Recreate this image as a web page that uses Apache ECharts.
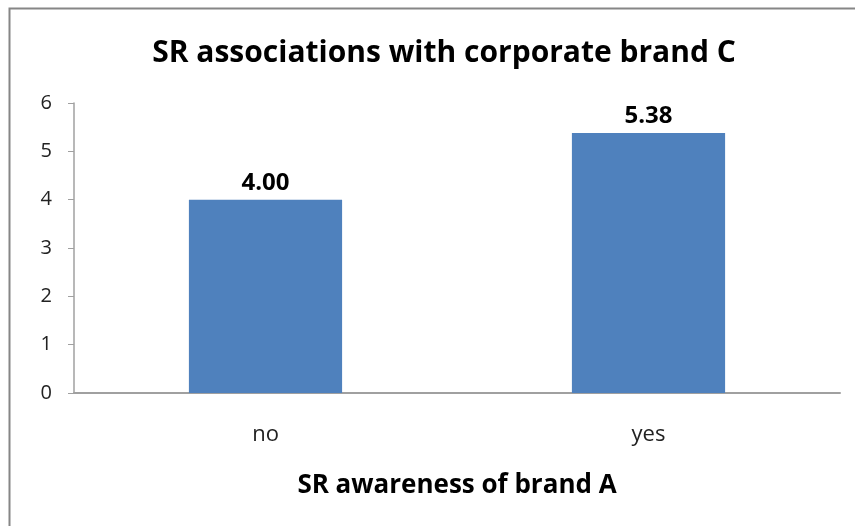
<!DOCTYPE html>
<html><head><meta charset="utf-8">
<script src="https://cdn.jsdelivr.net/npm/echarts@6/dist/echarts.min.js"></script>
<style>html,body{margin:0;padding:0;background:#fff}#c{width:855px;height:526px}</style>
</head><body><div id="c"></div>
<script>
const categories = ['no', 'yes'];
const values = [4.00, 5.38];
const yTicks = [0, 1, 2, 3, 4, 5, 6];
const titleText = 'SR associations with corporate brand C';
const xTitle = 'SR awareness of brand A';

const chart = echarts.init(document.getElementById('c'), null, {renderer: 'canvas'});
const F = 'Open Sans';
chart.setOption({
  animation: false,
  backgroundColor: '#fff',
  graphic: [{
    type: 'rect', shape: {x: 9.5, y: 8.5, width: 900, height: 600},
    style: {fill: 'none', stroke: '#868686', lineWidth: 2}, silent: true
  }],
  title: {
    text: titleText, left: 439, top: 33, textAlign: 'center',
    textStyle: {fontFamily: F, fontWeight: 'bold', fontSize: 30, color: '#000'}
  },
  grid: {left: 74, right: 15, top: 103, bottom: 133, containLabel: false},
  xAxis: {
    type: 'category', data: categories,
    name: xTitle, nameLocation: 'middle', nameGap: 80,
    nameTextStyle: {fontFamily: F, fontWeight: 'bold', fontSize: 26, color: '#000'},
    axisLine: {lineStyle: {color: '#a0a0a0', width: 2}},
    axisTick: {show: false},
    axisLabel: {fontFamily: F, fontSize: 22, color: '#222', margin: 31}
  },
  yAxis: {
    type: 'value', min: yTicks[0], max: yTicks[yTicks.length - 1], interval: 1,
    axisLine: {show: true, lineStyle: {color: '#a0a0a0', width: 1.5}},
    axisTick: {show: true, length: 6, lineStyle: {color: '#a0a0a0'}},
    splitLine: {show: false},
    axisLabel: {fontFamily: F, fontSize: 20, color: '#222', margin: 22}
  },
  series: [{
    type: 'bar', data: values, barWidth: '40%',
    itemStyle: {color: '#4f81bd'},
    label: {show: true, position: 'top', distance: 5,
      formatter: p => p.value.toFixed(2),
      fontFamily: F, fontWeight: 'bold', fontSize: 24, color: '#000'}
  }]
});
</script></body></html>
